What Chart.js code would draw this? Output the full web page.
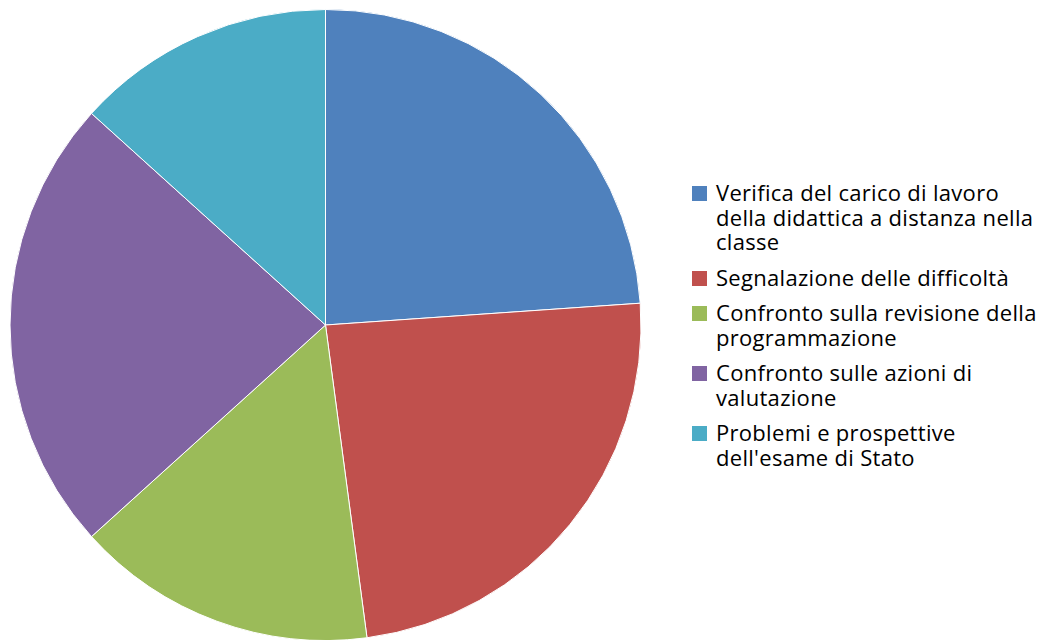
<!DOCTYPE html>
<html>
<head>
<meta charset="utf-8">
<script src="https://cdn.jsdelivr.net/npm/chart.js@4/dist/chart.umd.min.js"></script>
<style>
  html, body { margin: 0; padding: 0; background: #fff; overflow: hidden; }
  #wrap { position: absolute; left: 0; top: 0; width: 651px; height: 650px; }
  #legenda { position: absolute; left: 692px; top: 180px; font-family: 'Open Sans', Lato, sans-serif; font-size: 22px; letter-spacing: 0.3px; color: #000; }
  .voce { display: flex; align-items: flex-start; margin-bottom: 11px; white-space: nowrap; line-height: 24.5px; }
  .box { width: 15px; height: 15px; margin-top: 6px; margin-right: 9px; flex: none; }
</style>
</head>
<body>
<div id="wrap"><canvas id="chartPie"></canvas></div>
<div id="legenda"></div>
<script>
  // dati (percentuali stimate)
  const categorie = [
    ['Verifica del carico di lavoro', 'della didattica a distanza nella', 'classe'],
    ['Segnalazione delle difficoltà'],
    ['Confronto sulla revisione della', 'programmazione'],
    ['Confronto sulle azioni di', 'valutazione'],
    ['Problemi e prospettive', "dell'esame di Stato"]
  ];
  const valori = [23.9, 24.0, 15.4, 23.4, 13.3];
  const colori = ['#4F81BD', '#C0504D', '#9BBB59', '#8064A2', '#4BACC6'];

  const ctxPie = document.getElementById('chartPie');
  const grafico = new Chart(ctxPie, {
    type: 'pie',
    data: {
      labels: categorie,
      datasets: [{
        data: valori,
        backgroundColor: colori,
        borderColor: '#ffffff',
        borderWidth: 1
      }]
    },
    options: {
      responsive: true,
      maintainAspectRatio: false,
      animation: false,
      layout: { padding: 9 },
      plugins: {
        legend: { display: false },
        tooltip: { enabled: false }
      }
    }
  });

  // legenda html, cosi le righe vanno a capo come nell'originale
  const legenda = document.getElementById('legenda');
  grafico.data.labels.forEach(function (righe, i) {
    const voce = document.createElement('div');
    voce.className = 'voce';
    const box = document.createElement('span');
    box.className = 'box';
    box.style.background = grafico.data.datasets[0].backgroundColor[i];
    const testo = document.createElement('span');
    testo.innerHTML = righe.join('<br>');
    voce.appendChild(box);
    voce.appendChild(testo);
    legenda.appendChild(voce);
  });
</script>
</body>
</html>
